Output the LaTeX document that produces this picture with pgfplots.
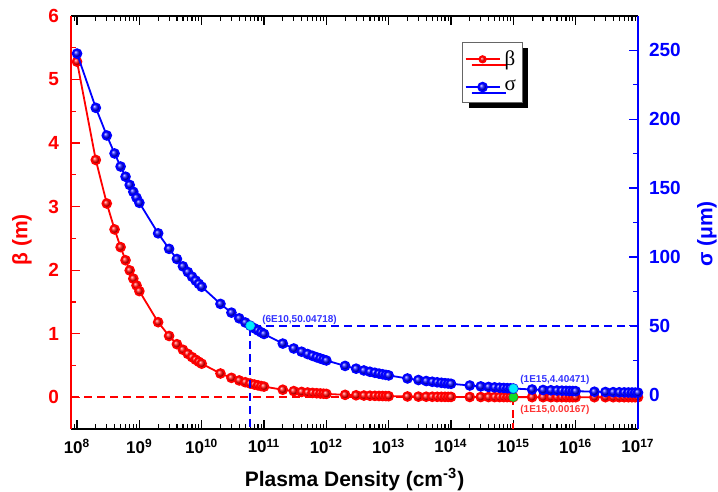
\documentclass[border=0pt]{standalone}
\usepackage{pgfplots}
\usepackage{pgfplotstable}
\pgfplotsset{compat=1.18}
\usepackage{fontspec}
\setmainfont{Liberation Sans}
\newfontfamily\legfont{Liberation Serif}
\usetikzlibrary{shadows}

\definecolor{myred}{RGB}{255,0,0}
\definecolor{myblue}{RGB}{0,0,255}
\definecolor{mycyan}{RGB}{0,235,255}
\definecolor{mygreen}{RGB}{20,220,40}

\pgfplotstableread{
n beta sigma
1e8 5.281 247.70
2e8 3.734 208.29
3e8 3.049 188.21
4e8 2.641 175.15
5e8 2.362 165.64
6e8 2.156 158.26
7e8 1.996 152.28
8e8 1.867 147.28
9e8 1.760 143.01
1e9 1.670 139.29
2e9 1.181 117.13
3e9 0.964 105.84
4e9 0.835 98.49
5e9 0.747 93.15
6e9 0.682 89.00
7e9 0.631 85.63
8e9 0.590 82.82
9e9 0.557 80.42
1e10 0.5281 78.33
2e10 0.3734 65.87
3e10 0.3049 59.52
4e10 0.2641 55.39
5e10 0.2362 52.38
6e10 0.2156 50.05
7e10 0.1996 48.15
8e10 0.1867 46.57
9e10 0.1760 45.22
1e11 0.1670 44.05
2e11 0.1181 37.04
3e11 0.0964 33.47
4e11 0.0835 31.15
5e11 0.0747 29.46
6e11 0.0682 28.14
7e11 0.0631 27.08
8e11 0.0590 26.19
9e11 0.0557 25.43
1e12 0.05281 24.77
2e12 0.03734 20.83
3e12 0.03049 18.82
4e12 0.02641 17.52
5e12 0.02362 16.56
6e12 0.02156 15.83
7e12 0.01996 15.23
8e12 0.01867 14.73
9e12 0.01760 14.30
1e13 0.01670 13.93
2e13 0.01181 11.71
3e13 0.00964 10.58
4e13 0.00835 9.85
5e13 0.00747 9.31
6e13 0.00682 8.90
7e13 0.00631 8.56
8e13 0.00590 8.28
9e13 0.00557 8.04
1e14 0.005281 7.833
2e14 0.003734 6.587
3e14 0.003049 5.952
4e14 0.002641 5.539
5e14 0.002362 5.238
6e14 0.002156 5.005
7e14 0.001996 4.816
8e14 0.001867 4.657
9e14 0.001760 4.522
1e15 0.00167 4.405
2e15 0.001181 3.704
3e15 0.000964 3.347
4e15 0.000835 3.115
5e15 0.000747 2.946
6e15 0.000682 2.814
7e15 0.000631 2.708
8e15 0.000590 2.619
9e15 0.000557 2.543
1e16 0.000528 2.477
2e16 0.000373 2.083
3e16 0.000305 1.882
4e16 0.000264 1.752
5e16 0.000236 1.657
6e16 0.000216 1.583
7e16 0.000200 1.523
8e16 0.000187 1.473
9e16 0.000176 1.430
1e17 0.000167 1.393
}\datatable

\pgfplotstableread{
x y
8e7 0
1e15 0
1e15 -0.5
}\betaguide

\pgfplotstableread{
x y
1e17 50
6e10 50
6e10 -25
}\sigmaguide

\newcommand{\tl}[1]{\textbf{10}\textsuperscript{\textbf{#1}}}

\begin{document}
\begin{tikzpicture}
\begin{axis}[
  scale only axis, width=283.5pt, height=206.5pt,
  at={(0,0)}, anchor=south west,
  xmode=log, xmin=8e7, xmax=1e17,
  clip=false, tick align=inside,
  major tick length=4.5pt, minor tick length=2.5pt,
  separate axis lines,
  /pgf/number format/assume math mode=true,
  ymin=-0.5, ymax=6,
  xtick={1e8,1e9,1e10,1e11,1e12,1e13,1e14,1e15,1e16,1e17},
  xticklabels={\tl{8},\tl{9},\tl{10},\tl{11},\tl{12},\tl{13},\tl{14},\tl{15},\tl{16},\tl{17}},
  minor xtick={9e7,
    2e8,3e8,4e8,5e8,6e8,7e8,8e8,9e8,
    2e9,3e9,4e9,5e9,6e9,7e9,8e9,9e9,
    2e10,3e10,4e10,5e10,6e10,7e10,8e10,9e10,
    2e11,3e11,4e11,5e11,6e11,7e11,8e11,9e11,
    2e12,3e12,4e12,5e12,6e12,7e12,8e12,9e12,
    2e13,3e13,4e13,5e13,6e13,7e13,8e13,9e13,
    2e14,3e14,4e14,5e14,6e14,7e14,8e14,9e14,
    2e15,3e15,4e15,5e15,6e15,7e15,8e15,9e15,
    2e16,3e16,4e16,5e16,6e16,7e16,8e16,9e16},
  xtick pos=both, ytick pos=left,
  ytick={0,1,2,3,4,5,6},
  minor ytick={0.5,1.5,2.5,3.5,4.5,5.5},
  x axis line style={black, line width=0.6pt},
  y axis line style={myred, line width=0.6pt},
  xtick style={black, line width=0.6pt},
  ytick style={myred, line width=0.6pt},
  xticklabel style={font=\fontsize{8.5}{10}\selectfont, yshift=-1.5pt},
  yticklabel style={font=\fontsize{9.5}{11}\selectfont\bfseries, text=myred, xshift=-2.5pt},
  xlabel={\textbf{Plasma Density (cm\textsuperscript{-3})}},
  xlabel style={font=\fontsize{10.5}{12}\selectfont, at={(axis description cs:0.5,-0.1235)}, anchor=center},
  ylabel={\textbf{β (m)}},
  ylabel style={font=\fontsize{10.5}{12}\selectfont, text=myred, at={(axis description cs:-0.0864,0.458)}, anchor=center},
]
\addplot[myred, solid, line width=0.9pt, dash pattern=on 4pt off 2.5pt, mark=none] table[x=x, y=y] {\betaguide};
\addplot[myred, line width=0.9pt, mark=ball, mark size=2.2pt, mark options={ball color=myred}] table[x=n, y=beta] {\datatable};
\addplot[only marks, mark=*, mark size=2.2pt, mark options={fill=mygreen, draw=mygreen!85!black, line width=0.3pt}] coordinates {(1e15,0.00167)};
\node[anchor=west, text=myred!80!white, font=\fontsize{5}{6}\selectfont\bfseries, yshift=-6.5pt] at (axis cs:1e15,0.00167) {(1E15,0.00167)};
\end{axis}

\begin{axis}[
  scale only axis, width=283.5pt, height=206.5pt,
  at={(0,0)}, anchor=south west,
  xmode=log, xmin=8e7, xmax=1e17,
  clip=false, tick align=inside,
  major tick length=4.5pt, minor tick length=2.5pt,
  /pgf/number format/assume math mode=true,
  axis x line=none, axis y line*=right,
  ymin=-25, ymax=275,
  ytick={0,50,100,150,200,250},
  minor ytick={25,75,125,175,225},
  y axis line style={myblue, line width=0.6pt},
  ytick style={myblue, line width=0.6pt},
  yticklabel style={font=\fontsize{9.5}{11}\selectfont\bfseries, text=myblue, xshift=2pt},
  ylabel={\textbf{σ (μm)}},
  ylabel style={font=\fontsize{10.5}{12}\selectfont, text=myblue, at={(axis description cs:1.1217,0.472)}, anchor=center},
  legend style={at={(axis description cs:0.69,0.937)}, anchor=north west,
    font=\legfont\fontsize{10.5}{12.5}\selectfont, draw=black!60, fill=white,
    drop shadow={shadow xshift=3pt, shadow yshift=-3pt, fill=black, opacity=1},
    inner xsep=1pt, inner ysep=2pt, row sep=2pt},
  legend cell align=left,
]
\addlegendimage{myred, line width=0.9pt, mark=ball, mark size=1.6pt, mark options={ball color=myred}}
\addlegendentry{β}
\addplot[myblue, solid, line width=0.9pt, dash pattern=on 4pt off 2.5pt, mark=none, forget plot] table[x=x, y=y] {\sigmaguide};
\addplot[myblue, line width=0.9pt, mark=ball, mark size=2.2pt, mark options={ball color=myblue}] table[x=n, y=sigma] {\datatable};
\addlegendentry{σ}
\addplot[only marks, mark=*, mark size=2.2pt, mark options={fill=mycyan, draw=mycyan!85!black, line width=0.3pt}, forget plot] coordinates {(6e10,50.047) (1e15,4.40471)};
\node[anchor=west, text=myblue!80!white, font=\fontsize{5}{6}\selectfont\bfseries, xshift=2.5pt, yshift=3pt] at (axis cs:6e10,50.047) {(6E10,50.04718)};
\node[anchor=west, text=myblue!80!white, font=\fontsize{5}{6}\selectfont\bfseries, yshift=4.5pt] at (axis cs:1e15,4.40471) {(1E15,4.40471)};
\end{axis}
\pgfresetboundingbox
\path[use as bounding box] (-35.5pt,-31.5pt) rectangle (323.5pt,214.5pt);
\end{tikzpicture}
\end{document}
